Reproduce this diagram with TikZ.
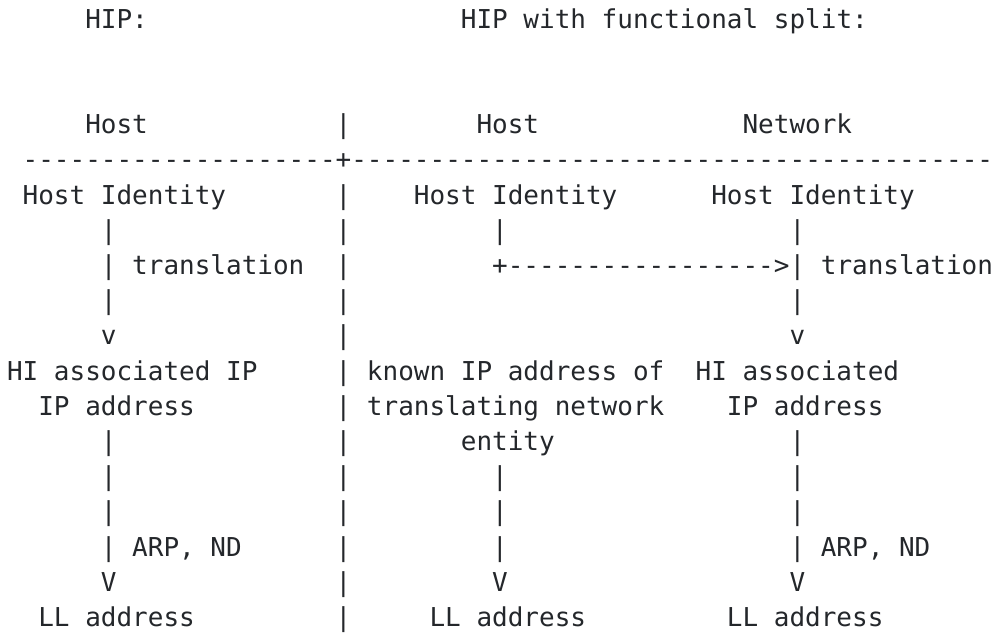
\documentclass[tikz,border=0pt]{standalone}
\usepackage{fontspec}
\setmonofont{DejaVu Sans Mono}
\definecolor{ink}{RGB}{36,39,43}

% column / row grid of the monospaced layout (1 unit = 1 px)
\newcommand\gx[1]{7+15.65*#1}
\newcommand\gy[1]{28+35.2*(#1-1)}
% \cell{name}{row}{column}{text}
\newcommand\cell[4]{\node[txt] (#1) at ({\gx{#3}},{\gy{#2}}) {#4};}

\begin{document}
\begin{tikzpicture}[x=1pt,y=-1pt,
  txt/.style={anchor=base west,inner sep=0pt,outer sep=0pt,text=ink,
    font=\ttfamily\fontsize{26}{35}\selectfont}]
\useasboundingbox (0,0) rectangle (995,632);

% titles
\cell{tHip}{1}{5}{HIP:}
\cell{tSplit}{1}{29}{HIP with functional split:}

% column headings
\cell{hHost}{4}{5}{Host}
\cell{hHostB}{4}{30}{Host}
\cell{hNet}{4}{47}{Network}
\cell{rule}{5}{1}{--------------------+-----------------------------------------}

% vertical separator between the two variants
\foreach \r in {4,6,7,...,18} {\cell{sep\r}{\r}{21}{|}}

% plain HIP
\cell{hiA}{6}{1}{Host Identity}
\cell{a7}{7}{6}{|}
\cell{a8}{8}{6}{| translation}
\cell{a9}{9}{6}{|}
\cell{a10}{10}{6}{v}
\cell{ipA1}{11}{0}{HI associated IP}
\cell{ipA2}{12}{2}{IP address}
\foreach \r in {13,14,15} {\cell{a\r}{\r}{6}{|}}
\cell{a16}{16}{6}{| ARP, ND}
\cell{a17}{17}{6}{V}
\cell{llA}{18}{2}{LL address}

% split: host side
\cell{hiB}{6}{26}{Host Identity}
\cell{b7}{7}{31}{|}
\cell{b8}{8}{31}{+----------------->| translation}
\cell{knB1}{11}{23}{known IP address of}
\cell{knB2}{12}{23}{translating network}
\cell{knB3}{13}{29}{entity}
\foreach \r in {14,15,16} {\cell{b\r}{\r}{31}{|}}
\cell{b17}{17}{31}{V}
\cell{llB}{18}{27}{LL address}

% split: network side
\cell{hiC}{6}{45}{Host Identity}
\cell{c7}{7}{50}{|}
\cell{c9}{9}{50}{|}
\cell{c10}{10}{50}{v}
\cell{ipC1}{11}{44}{HI associated}
\cell{ipC2}{12}{46}{IP address}
\foreach \r in {13,14,15} {\cell{c\r}{\r}{50}{|}}
\cell{c16}{16}{50}{| ARP, ND}
\cell{c17}{17}{50}{V}
\cell{llC}{18}{46}{LL address}
\end{tikzpicture}
\end{document}
